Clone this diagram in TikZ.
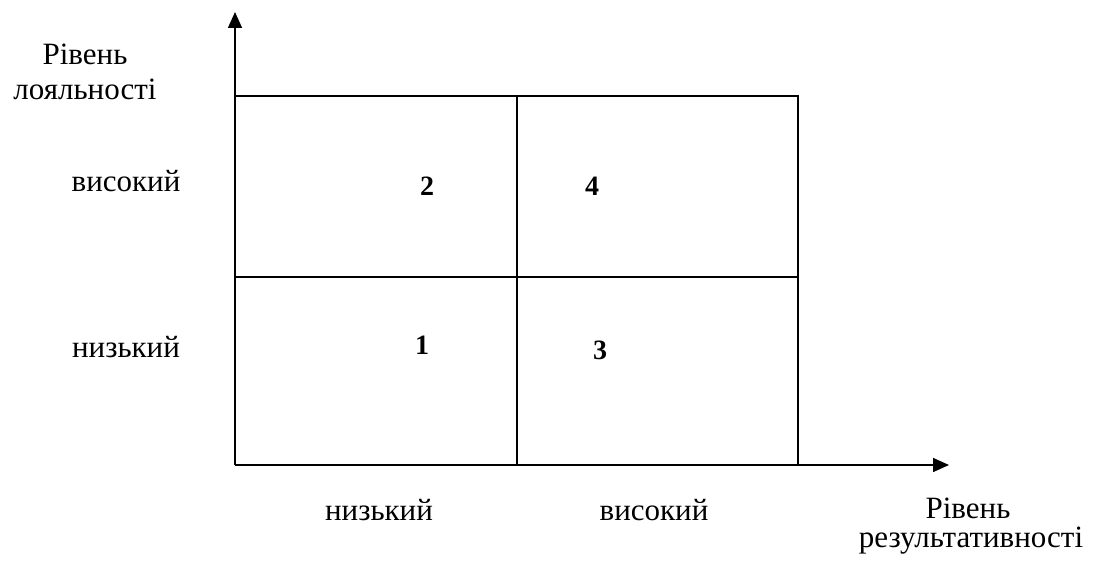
\documentclass[tikz,border=0pt]{standalone}
\usepackage{fontspec}
\setmainfont{Liberation Serif}
\usetikzlibrary{arrows.meta}
\begin{document}
\begin{tikzpicture}[x=1pt,y=-1pt,
  lbl/.style={anchor=base,inner sep=0pt,font=\fontsize{31}{35}\selectfont},
  num/.style={anchor=base,inner sep=0pt,font=\fontsize{28}{32}\selectfont\bfseries},
  ln/.style={line width=1.5pt},
  axis/.style={line width=1.5pt,-{Triangle[length=16pt,width=14pt]}}]
\useasboundingbox (0,0) rectangle (1094,561);
% coordinates
\coordinate (O) at (235,465);
\coordinate (ytip) at (235,12);
\coordinate (xtip) at (949,465);
\coordinate (TL) at (235,96);
\coordinate (TR) at (798,96);
\coordinate (BR) at (798,465);
\coordinate (TM) at (517,96);
\coordinate (BM) at (517,465);
\coordinate (ML) at (235,277);
\coordinate (MR) at (798,277);
% grid
\draw[ln] (TL) -- (TR) -- (BR);
\draw[ln] (TM) -- (BM);
\draw[ln] (ML) -- (MR);
% axes
\draw[axis] (O) -- (ytip);
\draw[axis] (O) -- (xtip);
% labels
\node[lbl] (ylab1) at (85,65) {Рівень};
\node[lbl] (ylab2) at (85,100) {лояльності};
\node[lbl] (yhigh) at (126,192) {високий};
\node[lbl] (ylow) at (126,357) {низький};
\node[lbl] (xlow) at (379,520) {низький};
\node[lbl] (xhigh) at (654,520) {високий};
\node[lbl] (xlab1) at (968,518) {Рівень};
\node[lbl] (xlab2) at (971,547) {результативності};
% numbers
\node[num] (n2) at (427,196) {2};
\node[num] (n4) at (592,196) {4};
\node[num] (n1) at (422,354) {1};
\node[num] (n3) at (600,359) {3};
\end{tikzpicture}
\end{document}
